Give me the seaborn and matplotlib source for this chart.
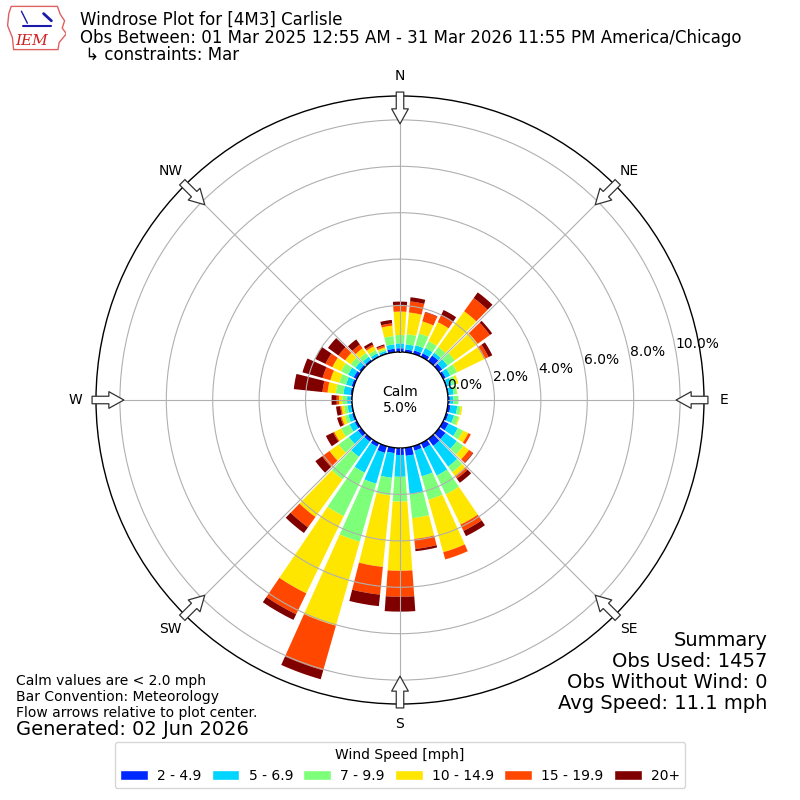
import numpy as np
import matplotlib
matplotlib.use("Agg")
import matplotlib.pyplot as plt
import seaborn as sns
from matplotlib.patches import Patch, Polygon

directions = np.arange(0, 360, 10)
speed_bins = ["2 - 4.9", "5 - 6.9", "7 - 9.9", "10 - 14.9", "15 - 19.9", "20+"]

pct_2_5 = [0.16, 0.12, 0.15, 0.17, 0.30, 0.18, 0.12, 0.05, 0.05, 0.08, 0.12, 0.10,
           0.25, 0.35, 0.37, 0.25, 0.20, 0.35, 0.30, 0.23, 0.30, 0.17, 0.15, 0.17,
           0.10, 0.08, 0.05, 0.06, 0.08, 0.10, 0.15, 0.10, 0.08, 0.05, 0.05, 0.15]
pct_5_7 = [0.21, 0.22, 0.23, 0.25, 0.15, 0.28, 0.22, 0.20, 0.20, 0.15, 0.29, 0.25,
           0.45, 0.60, 1.10, 1.30, 1.15, 1.65, 0.94, 1.07, 1.38, 1.24, 0.80, 0.48,
           0.25, 0.17, 0.15, 0.15, 0.30, 0.25, 0.27, 0.20, 0.15, 0.12, 0.08, 0.19]
pct_7_10 = [0.36, 0.44, 0.53, 0.33, 0.30, 0.38, 0.33, 0.20, 0.15, 0.22, 0.15, 0.20,
            0.25, 0.35, 0.30, 0.90, 1.05, 1.05, 1.07, 0.76, 2.60, 2.08, 1.20, 0.55,
            0.40, 0.15, 0.15, 0.21, 0.33, 0.30, 0.33, 0.25, 0.20, 0.15, 0.08, 0.36]
pct_10_15 = [1.01, 0.94, 0.54, 0.91, 1.90, 1.22, 1.30, 0.10, 0.02, 0.00, 0.07, 0.05,
             0.25, 0.30, 0.20, 1.45, 2.35, 0.90, 2.98, 3.10, 3.76, 3.70, 2.00, 0.48,
             0.33, 0.15, 0.12, 0.14, 0.36, 0.40, 0.42, 0.30, 0.25, 0.18, 0.08, 0.45]
pct_15_20 = [0.29, 0.48, 0.41, 0.34, 0.70, 0.65, 0.20, 0.00, 0.00, 0.00, 0.00, 0.00,
             0.12, 0.20, 0.14, 0.30, 0.32, 0.43, 1.12, 1.20, 2.00, 1.00, 0.55, 0.39,
             0.05, 0.05, 0.05, 0.10, 0.22, 0.35, 0.33, 0.35, 0.20, 0.08, 0.08, 0.10]
pct_20_up = [0.14, 0.18, 0.02, 0.24, 0.30, 0.12, 0.18, 0.00, 0.00, 0.00, 0.00, 0.00,
             0.00, 0.03, 0.22, 0.25, 0.00, 0.10, 0.64, 0.50, 0.40, 0.27, 0.30, 0.36,
             0.35, 0.15, 0.18, 0.22, 1.24, 0.90, 0.50, 0.56, 0.27, 0.12, 0.05, 0.15]
series = [pct_2_5, pct_5_7, pct_7_10, pct_10_15, pct_15_20, pct_20_up]

calm_pct = 5.0
ring_ticks = [0, 2, 4, 6, 8, 10]
compass = ["N", "NE", "E", "SE", "S", "SW", "W", "NW"]

title_lines = ["Windrose Plot for [4M3] Carlisle",
               "Obs Between: 01 Mar 2025 12:55 AM - 31 Mar 2026 11:55 PM America/Chicago",
               "\u21b3 constraints: Mar"]
notes = ["Calm values are < 2.0 mph", "Bar Convention: Meteorology",
         "Flow arrows relative to plot center."]
summary = ["Summary", "Obs Used: 1457", "Obs Without Wind: 0", "Avg Speed: 11.1 mph"]

# --- Style ---
sns.set_style("white", {"axes.edgecolor": "black", "text.color": "black"})
plt.rcParams["font.family"] = ["DejaVu Sans"]
jet = plt.get_cmap("jet")
palette = sns.color_palette([jet(i / 6) for i in range(1, 7)])

fig = plt.figure(figsize=(8, 8), dpi=100)
ax = fig.add_axes([0.12, 0.12, 0.76, 0.76], projection="polar")
ax.set_theta_zero_location("N")
ax.set_theta_direction(-1)
ax.set_rorigin(-2.07)
ax.set_ylim(0, 11.03)

# --- Stacked bars ---
theta = np.deg2rad(directions)
width = np.deg2rad(8.3)
bottom = np.zeros(len(directions))
for vals, col in zip(series, palette):
    vals = np.array(vals)
    ax.bar(theta, vals, width=width, bottom=bottom, color=col, linewidth=0)
    bottom += vals

# --- Grid / spines ---
ax.set_axisbelow(False)
ax.set_xticks(np.deg2rad(np.arange(0, 360, 45)))
ax.set_xticklabels([])
ax.set_yticks(ring_ticks[1:])
ax.set_yticklabels([])
ax.grid(True, color="#b0b0b0", linewidth=0.8)
for sp in ax.spines.values():
    sp.set_edgecolor("black")
    sp.set_linewidth(1.0)

for v in ring_ticks:
    ax.text(np.deg2rad(80), v, f"{v:.1f}%", ha="left", va="bottom",
            fontsize=10, zorder=10)

ax.text(0, -2.07, f"Calm\n{calm_pct:.1f}%", ha="center", va="center",
        fontsize=10, zorder=10)

# --- Compass labels and inward flow arrows ---
for i, lab in enumerate(compass):
    t = np.deg2rad(i * 45)
    ax.text(t, 11.9, lab, ha="center", va="center", fontsize=10)
    ax.annotate("", xy=(t, 9.83), xytext=(t, 11.2), annotation_clip=False,
                arrowprops=dict(arrowstyle="simple,head_length=0.9,head_width=1.0,tail_width=0.45",
                                fc="white", ec="#333333", lw=0.9, mutation_scale=12,
                                shrinkA=0, shrinkB=0))

# --- Titles ---
fig.text(0.1, 0.975, title_lines[0], fontsize=12, va="center")
fig.text(0.1, 0.9525, title_lines[1], fontsize=12, va="center")
fig.text(0.1, 0.931, " " + title_lines[2], fontsize=12, va="center")

# --- Logo ---
lax = fig.add_axes([0.008, 0.935, 0.075, 0.06])
lax.set_xlim(0, 1)
lax.set_ylim(0, 1)
lax.axis("off")
iowa = [(0.08, 0.95), (0.85, 0.95), (0.9, 0.78), (0.97, 0.65), (0.93, 0.5),
        (1.0, 0.38), (0.88, 0.2), (0.86, 0.05), (0.12, 0.05), (0.1, 0.3),
        (0.02, 0.55), (0.04, 0.8)]
lax.add_patch(Polygon(iowa, closed=True, fill=False, ec="#e06060", lw=1))
lax.plot([0.28, 0.75], [0.55, 0.55], color="#1a1aa8", lw=1.5)
lax.plot([0.25, 0.35], [0.85, 0.6], color="#1a1aa8", lw=1)
lax.plot([0.62, 0.75], [0.8, 0.65], color="#1a1aa8", lw=2)
lax.text(0.42, 0.22, "IEM", color="#d02020", fontsize=11, family="DejaVu Serif",
         style="italic", ha="center", va="center")

# --- Notes and summary ---
for i, line in enumerate(notes):
    fig.text(0.02, 1 - (680.7 + 16 * i) / 800, line, fontsize=10, va="center")
fig.text(0.02, 1 - 729.3 / 800, "Generated: 02 Jun 2026", fontsize=14, va="center")
for i, line in enumerate(summary):
    fig.text(0.959, 1 - (640.7 + 21 * i) / 800, line, fontsize=14, va="center", ha="right")

# --- Legend ---
handles = [Patch(facecolor=c, label=l) for c, l in zip(palette, speed_bins)]
fig.legend(handles=handles, ncol=6, loc="lower center", bbox_to_anchor=(0.5, 0.006),
           title="Wind Speed [mph]", fontsize=10, title_fontsize=10, frameon=True,
           columnspacing=0.75, handletextpad=0.65)

fig.savefig("out.png", dpi=100)
